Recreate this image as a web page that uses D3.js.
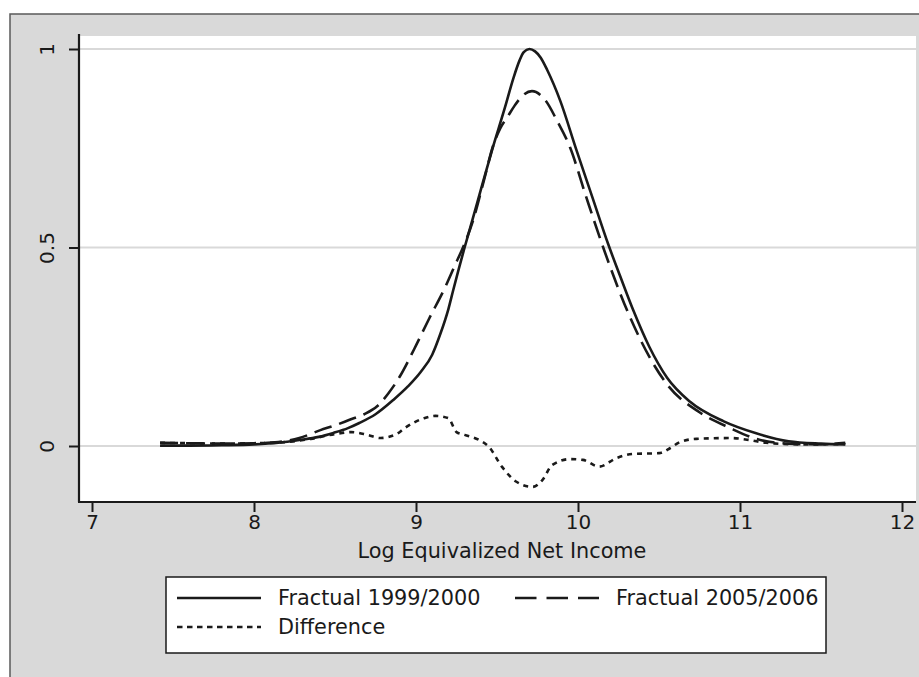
<!DOCTYPE html>
<html>
<head>
<meta charset="utf-8">
<script src="https://cdn.jsdelivr.net/npm/d3@7"></script>
<style>
  html, body { margin: 0; padding: 0; background: #ffffff; }
  svg { display: block; }
  text { font-family: "DejaVu Sans", Verdana, sans-serif; fill: #1a1a1a; }
</style>
</head>
<body>
<svg id="chart" width="919" height="677"></svg>
<script>
// Kernel density of log equivalized net income, two survey waves and their difference
const incomeGrid1999 = [7.42, 7.6, 7.8, 8.0, 8.15, 8.28, 8.4, 8.49, 8.58, 8.65, 8.75, 8.86, 8.95, 9.03, 9.1, 9.15, 9.2, 9.23, 9.26, 9.3, 9.35, 9.4, 9.47, 9.55, 9.6, 9.64, 9.665, 9.7, 9.735, 9.77, 9.81, 9.89, 9.99, 10.09, 10.185, 10.26, 10.34, 10.44, 10.55, 10.69, 10.9, 11.1, 11.3, 11.5, 11.65];
const density1999 = [0.001, 0.001, 0.002, 0.004, 0.008, 0.015, 0.023, 0.033, 0.045, 0.058, 0.080, 0.116, 0.150, 0.187, 0.230, 0.282, 0.345, 0.393, 0.440, 0.500, 0.572, 0.645, 0.746, 0.854, 0.925, 0.972, 0.992, 1.000, 0.994, 0.978, 0.947, 0.870, 0.746, 0.625, 0.510, 0.428, 0.343, 0.250, 0.172, 0.112, 0.062, 0.032, 0.012, 0.006, 0.004];

const incomeGrid2005 = [7.42, 7.6, 7.8, 8.0, 8.15, 8.28, 8.41, 8.5, 8.59, 8.68, 8.76, 8.83, 8.9, 8.99, 9.08, 9.18, 9.24, 9.29, 9.35, 9.42, 9.475, 9.52, 9.568, 9.61, 9.652, 9.716, 9.8, 9.87, 9.95, 10.05, 10.16, 10.31, 10.44, 10.55, 10.75, 10.94, 11.1, 11.3, 11.5, 11.65];
const density2005 = [0.008, 0.007, 0.006, 0.007, 0.010, 0.020, 0.040, 0.052, 0.066, 0.080, 0.100, 0.133, 0.175, 0.245, 0.320, 0.400, 0.455, 0.500, 0.565, 0.670, 0.755, 0.800, 0.831, 0.858, 0.880, 0.894, 0.870, 0.820, 0.753, 0.628, 0.495, 0.335, 0.225, 0.155, 0.085, 0.045, 0.018, 0.006, 0.004, 0.008];

const incomeGridDiff = [7.42, 7.6, 7.8, 8.0, 8.2, 8.35, 8.5, 8.6, 8.7, 8.78, 8.88, 8.93, 9.05, 9.12, 9.2, 9.25, 9.3, 9.39, 9.45, 9.53, 9.62, 9.72, 9.78, 9.84, 9.95, 10.03, 10.13, 10.24, 10.34, 10.5, 10.57, 10.63, 10.73, 10.94, 11.06, 11.16, 11.4, 11.65];
const densityDiff = [0.008, 0.007, 0.006, 0.007, 0.010, 0.018, 0.030, 0.035, 0.028, 0.020, 0.030, 0.045, 0.070, 0.076, 0.070, 0.035, 0.028, 0.015, -0.002, -0.052, -0.090, -0.103, -0.086, -0.048, -0.033, -0.035, -0.052, -0.030, -0.020, -0.018, -0.005, 0.010, 0.018, 0.020, 0.015, 0.008, 0.004, 0.005];

const xTicks = [7, 8, 9, 10, 11, 12];
const yTicks = [0, 0.5, 1];
const yTickLabels = ["0", "0.5", "1"];
const xTitle = "Log Equivalized Net Income";
const seriesNames = ["Fractual 1999/2000", "Fractual 2005/2006", "Difference"];

const svg = d3.select("#chart");
const ink = "#1a1a1a";

// Plot region bounds
const plot = { left: 79, right: 916, top: 36, bottom: 501 };

const x = d3.scaleLinear().domain([7, 12]).range([92, 902]);
const y = d3.scaleLinear().domain([0, 1]).range([446, 49]);

// Outer graph frame
svg.append("rect")
  .attr("x", 10).attr("y", 14)
  .attr("width", 1000).attr("height", 1000)
  .attr("fill", "#d9d9d9")
  .attr("stroke", "#5a5a5a").attr("stroke-width", 1.5);

// Plot background
svg.append("rect")
  .attr("x", plot.left).attr("y", plot.top)
  .attr("width", plot.right - plot.left).attr("height", plot.bottom - plot.top)
  .attr("fill", "#ffffff");

// Horizontal grid lines
svg.append("g")
  .selectAll("line")
  .data(yTicks)
  .join("line")
  .attr("x1", plot.left).attr("x2", plot.right)
  .attr("y1", d => y(d)).attr("y2", d => y(d))
  .attr("stroke", "#d9d9d9").attr("stroke-width", 2);

// Y axis
const yAxis = d3.axisLeft(y)
  .tickValues(yTicks)
  .tickFormat((d, i) => yTickLabels[i])
  .tickSize(10).tickSizeOuter(0).tickPadding(8);
const gy = svg.append("g").attr("transform", `translate(${plot.left},0)`).call(yAxis);
gy.select(".domain").remove();
gy.selectAll(".tick line").attr("stroke", ink).attr("stroke-width", 2);
gy.selectAll(".tick text")
  .attr("x", 0).attr("dy", null)
  .attr("transform", "translate(-32,0) rotate(-90)")
  .attr("text-anchor", "middle")
  .attr("dominant-baseline", "central")
  .style("font-size", "20px")
  .attr("fill", ink);
svg.append("line")
  .attr("x1", plot.left).attr("x2", plot.left)
  .attr("y1", 34).attr("y2", plot.bottom + 1)
  .attr("stroke", ink).attr("stroke-width", 2.2);

// X axis
const xAxis = d3.axisBottom(x)
  .tickValues(xTicks)
  .tickFormat(d3.format("d"))
  .tickSize(10).tickSizeOuter(0).tickPadding(3);
const gx = svg.append("g").attr("transform", `translate(0,${plot.bottom + 1})`).call(xAxis);
gx.select(".domain").remove();
gx.selectAll(".tick line").attr("stroke", ink).attr("stroke-width", 2);
gx.selectAll(".tick text").style("font-size", "20px").attr("fill", ink);
svg.append("line")
  .attr("x1", plot.left - 1).attr("x2", plot.right)
  .attr("y1", plot.bottom + 1).attr("y2", plot.bottom + 1)
  .attr("stroke", ink).attr("stroke-width", 2.2);

svg.append("text")
  .attr("x", 502).attr("y", 558)
  .attr("text-anchor", "middle")
  .style("font-size", "20.8px")
  .text(xTitle);

// Density curves
const line = d3.line()
  .x(d => x(d[0]))
  .y(d => y(d[1]))
  .curve(d3.curveMonotoneX);

const series = [
  { xs: incomeGrid1999, ys: density1999, dash: null, width: 2.6 },
  { xs: incomeGrid2005, ys: density2005, dash: "18,8", width: 2.6 },
  { xs: incomeGridDiff, ys: densityDiff, dash: "5,5", width: 2.6 }
];

svg.append("g")
  .selectAll("path")
  .data(series)
  .join("path")
  .attr("d", s => line(s.xs.map((v, i) => [v, s.ys[i]])))
  .attr("fill", "none")
  .attr("stroke", ink)
  .attr("stroke-width", s => s.width)
  .attr("stroke-dasharray", s => s.dash);

// Legend
const legend = svg.append("g");
legend.append("rect")
  .attr("x", 166).attr("y", 577)
  .attr("width", 660).attr("height", 76)
  .attr("fill", "#ffffff")
  .attr("stroke", ink).attr("stroke-width", 1.5);

const legendItems = [
  { name: seriesNames[0], x: 177, y: 598, dash: null },
  { name: seriesNames[1], x: 515, y: 598, dash: "21.5,10" },
  { name: seriesNames[2], x: 177, y: 627, dash: "5.5,4.5" }
];
legendItems.forEach(it => {
  legend.append("line")
    .attr("x1", it.x).attr("x2", it.x + 84)
    .attr("y1", it.y).attr("y2", it.y)
    .attr("stroke", ink).attr("stroke-width", 2.6)
    .attr("stroke-dasharray", it.dash);
  legend.append("text")
    .attr("x", it.x + 101).attr("y", it.y)
    .attr("dominant-baseline", "central")
    .style("font-size", "20.8px")
    .text(it.name);
});
</script>
</body>
</html>
